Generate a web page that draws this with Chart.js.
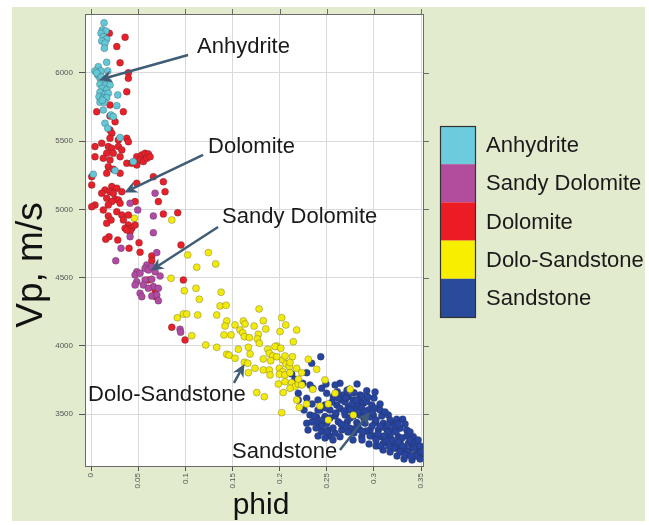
<!DOCTYPE html>
<html>
<head>
<meta charset="utf-8">
<script src="https://cdn.jsdelivr.net/npm/chart.js@4.4.0/dist/chart.umd.min.js"></script>
<style>
  html, body { margin: 0; padding: 0; background: #ffffff; }
  #wrap { position: relative; width: 649px; height: 525px; }
</style>
</head>
<body>
<div id="wrap"><canvas id="vpChart" width="649" height="525"></canvas></div>
<script>
// phid / Vp pairs per lithology
const anhydrite = [
    [0.0138, 6367], [0.0120, 6315], [0.0156, 6308], [0.0106, 6291], [0.0130, 6266], [0.0166, 6249],
    [0.0113, 6235], [0.0148, 6218], [0.0141, 6181], [0.0166, 6078], [0.0077, 6046], [0.0042, 6015],
    [0.0106, 6015], [0.0177, 6015], [0.0071, 5985], [0.0095, 5961], [0.0130, 5949], [0.0183, 5936],
    [0.0095, 5917], [0.0156, 5912], [0.0201, 5912], [0.0120, 5888], [0.0166, 5875], [0.0095, 5859],
    [0.0148, 5844], [0.0183, 5851], [0.0085, 5826], [0.0130, 5815], [0.0166, 5819], [0.0283, 5839],
    [0.0095, 5785], [0.0141, 5785], [0.0273, 5760], [0.0130, 5729], [0.0212, 5692], [0.0148, 5631],
    [0.0177, 5595], [0.0308, 5526], [0.0449, 5350], [0.0255, 5284], [0.0024, 5257], [0.0236, 5680],
    [0.0060, 6000], [0.0110, 5970], [0.0120, 5800]
];

const sandyDolomite = [
    [0.0679, 5119], [0.0414, 5045], [0.0495, 4996], [0.0661, 4952], [0.0414, 4800], [0.0661, 4829],
    [0.0318, 4715], [0.0262, 4624], [0.0697, 4683], [0.0591, 4593], [0.0573, 4568], [0.0608, 4556],
    [0.0644, 4580], [0.0485, 4543], [0.0467, 4519], [0.0520, 4532], [0.0679, 4543], [0.0732, 4512],
    [0.0644, 4488], [0.0485, 4470], [0.0573, 4483], [0.0467, 4446], [0.0555, 4446], [0.0661, 4434],
    [0.0608, 4422], [0.0714, 4422], [0.0520, 4385], [0.0644, 4365], [0.0697, 4373], [0.0538, 4360],
    [0.0714, 4331], [0.0944, 4121], [0.0950, 4100]
];

const dolomite = [
    [0.0194, 6291], [0.0361, 6262], [0.0273, 6193], [0.0308, 6075], [0.0396, 6002], [0.0396, 5961],
    [0.0379, 5863], [0.0201, 5765], [0.0060, 5716], [0.0343, 5716], [0.0201, 5685], [0.0255, 5643],
    [0.0201, 5582], [0.0220, 5558], [0.0201, 5521], [0.0290, 5509], [0.0379, 5521], [0.0396, 5496],
    [0.0042, 5460], [0.0113, 5485], [0.0183, 5460], [0.0220, 5448], [0.0290, 5460], [0.0326, 5436],
    [0.0166, 5411], [0.0236, 5411], [0.0042, 5386], [0.0130, 5375], [0.0201, 5362], [0.0308, 5386],
    [0.0379, 5338], [0.0485, 5386], [0.0538, 5399], [0.0573, 5411], [0.0608, 5406], [0.0520, 5362],
    [0.0555, 5350], [0.0591, 5375], [0.0626, 5386], [0.0485, 5326], [0.0432, 5338], [0.0183, 5313],
    [0.0236, 5294], [0.0308, 5265], [0.0007, 5240], [0.0166, 5265], [0.0661, 5240], [0.0767, 5203],
    [0.0485, 5191], [0.0007, 5179], [0.0220, 5167], [0.0148, 5142], [0.0273, 5155], [0.0201, 5130],
    [0.0113, 5118], [0.0236, 5118], [0.0326, 5130], [0.0166, 5082], [0.0255, 5074], [0.0290, 5069],
    [0.0220, 5057], [0.0308, 5045], [0.0042, 5032], [0.0007, 5020], [0.0183, 5032], [0.0467, 5057],
    [0.0785, 5130], [0.0714, 5057], [0.0130, 4996], [0.0273, 4983], [0.0326, 4959], [0.0396, 4959],
    [0.0183, 4952], [0.0212, 4922], [0.0166, 4898], [0.0343, 4922], [0.0396, 4886], [0.0361, 4862],
    [0.0432, 4862], [0.0467, 4886], [0.0414, 4837], [0.0379, 4849], [0.0191, 4800], [0.0156, 4781],
    [0.0283, 4776], [0.0767, 4966], [0.0919, 4976], [0.0509, 4756], [0.0403, 4715], [0.0520, 4686],
    [0.0954, 4739], [0.0644, 4659], [0.0644, 4624], [0.0608, 4483], [0.0979, 4483], [0.0679, 4409],
    [0.0686, 4360], [0.0856, 4136], [0.0997, 4043]
];

const doloSandstone = [
    [0.0459, 4935], [0.0856, 4922], [0.0848, 4495], [0.0989, 4404], [0.1025, 4666], [0.1244, 4683],
    [0.1121, 4576], [0.1322, 4600], [0.1113, 4422], [0.1379, 4393], [0.1148, 4341], [0.1368, 4292],
    [0.1432, 4297], [0.0979, 4233], [0.1015, 4233], [0.1131, 4226], [0.0915, 4206], [0.1333, 4226],
    [0.1782, 4270], [0.1439, 4182], [0.1615, 4182], [0.1827, 4184], [0.2022, 4206], [0.1527, 4153],
    [0.1580, 4116], [0.1633, 4160], [0.1729, 4145], [0.1421, 4145], [0.1853, 4123], [0.2065, 4153],
    [0.2181, 4116], [0.1485, 4080], [0.1410, 4080], [0.1609, 4096], [0.1626, 4067], [0.1679, 4060],
    [0.1774, 4085], [0.1764, 4050], [0.2004, 4104], [0.1068, 4074], [0.1785, 4019], [0.1969, 3999],
    [0.2145, 4030], [0.1216, 4006], [0.1333, 3989], [0.1562, 3975], [0.1668, 3989], [0.1874, 3975],
    [0.1951, 3994], [0.2012, 3982], [0.1439, 3938], [0.1463, 3931], [0.1686, 3940], [0.1891, 3945],
    [0.1927, 3926], [0.1969, 3920], [0.1527, 3909], [0.1827, 3904], [0.1906, 3891], [0.2033, 3896],
    [0.2135, 3920], [0.1626, 3879], [0.1662, 3872], [0.1739, 3835], [0.1827, 3823], [0.1891, 3823],
    [0.1997, 3835], [0.2033, 3810], [0.2068, 3867], [0.2103, 3847], [0.1668, 3803], [0.1997, 3791],
    [0.2057, 3786], [0.2110, 3803], [0.2181, 3835], [0.1898, 3786], [0.1986, 3720], [0.2057, 3737],
    [0.2128, 3730], [0.2163, 3701], [0.2039, 3657], [0.2110, 3689], [0.2198, 3720], [0.1757, 3657],
    [0.1838, 3627], [0.2057, 3926], [0.2110, 3877], [0.2304, 3901], [0.2393, 3828], [0.2234, 3803],
    [0.2198, 3755], [0.2351, 3681], [0.2481, 3750], [0.2234, 3713], [0.2588, 3652], [0.2181, 3603],
    [0.2287, 3574], [0.2516, 3574], [0.2428, 3559], [0.2209, 3549], [0.2747, 3682], [0.2022, 3510],
    [0.2516, 3457], [0.2782, 3493]
];

const sandstone = [
    [0.2436, 3920], [0.2340, 3872], [0.2287, 3803], [0.2128, 3794], [0.2163, 3755], [0.2245, 3725],
    [0.2351, 3689], [0.2446, 3689], [0.2640, 3725], [0.2739, 3682], [0.2924, 3671], [0.2499, 3652],
    [0.2612, 3664], [0.2675, 3640], [0.2569, 3627], [0.2728, 3627], [0.2658, 3603], [0.2781, 3603],
    [0.2853, 3598], [0.2888, 3579], [0.2924, 3591], [0.2977, 3566], [0.2818, 3566], [0.2606, 3566],
    [0.2481, 3566], [0.2428, 3530], [0.2534, 3530], [0.2640, 3542], [0.2728, 3550], [0.2800, 3530],
    [0.2871, 3542], [0.2941, 3530], [0.3012, 3542], [0.3065, 3530], [0.2322, 3493], [0.2393, 3476],
    [0.2481, 3481], [0.2588, 3486], [0.2694, 3493], [0.2781, 3486], [0.2853, 3493], [0.2924, 3481],
    [0.2994, 3493], [0.3083, 3486], [0.3153, 3493], [0.2287, 3432], [0.2410, 3432], [0.2499, 3432],
    [0.2622, 3444], [0.2718, 3444], [0.2818, 3437], [0.2906, 3432], [0.3012, 3437], [0.3100, 3432],
    [0.3189, 3437], [0.3242, 3462], [0.3305, 3462], [0.2446, 3371], [0.2516, 3383], [0.2588, 3359],
    [0.2658, 3383], [0.2747, 3396], [0.2853, 3383], [0.2959, 3383], [0.3047, 3383], [0.3136, 3388],
    [0.3206, 3383], [0.3277, 3396], [0.3348, 3383], [0.2527, 3339], [0.2640, 3334], [0.2871, 3334],
    [0.2994, 3339], [0.3083, 3334], [0.3171, 3339], [0.3259, 3334], [0.3348, 3339], [0.3418, 3334],
    [0.3100, 3286], [0.3206, 3286], [0.3277, 3290], [0.3365, 3286], [0.3436, 3286], [0.3242, 3249],
    [0.3330, 3242], [0.3401, 3249], [0.3471, 3231], [0.3348, 3200], [0.3436, 3200], [0.3489, 3187],
    [0.2198, 3652], [0.2198, 3603], [0.2322, 3713], [0.2287, 3616], [0.2588, 3713],
    [0.2694, 3588], [0.2768, 3574], [0.2831, 3515], [0.2895, 3464], [0.2959, 3478], [0.3022, 3456],
    [0.3097, 3405], [0.3149, 3369], [0.3224, 3413], [0.3192, 3310], [0.3298, 3266], [0.3383, 3310],
    [0.3128, 3310], [0.3043, 3354], [0.2980, 3413], [0.2916, 3375], [0.2831, 3420], [0.2747, 3471],
    [0.2683, 3522], [0.2598, 3508], [0.2534, 3471], [0.2450, 3413], [0.2386, 3398], [0.2704, 3413],
    [0.2789, 3361], [0.2874, 3310], [0.2948, 3281], [0.3022, 3266], [0.3097, 3237], [0.3171, 3222],
    [0.3245, 3193], [0.3319, 3171], [0.3404, 3163], [0.3489, 3171], [0.3277, 3222], [0.3213, 3251],
    [0.3362, 3222], [0.3425, 3251], [0.3489, 3266], [0.3065, 3574], [0.3001, 3618], [0.2853, 3640],
    [0.2789, 3655], [0.2715, 3675], [0.2556, 3588], [0.2492, 3544], [0.2344, 3442], [0.2407, 3530],
    [0.2344, 3574], [0.2259, 3530],
    [0.2619, 3618], [0.2704, 3618], [0.2810, 3603], [0.2874, 3632], [0.2937, 3625], [0.2747, 3530],
    [0.2906, 3515], [0.2980, 3508], [0.3118, 3515], [0.3171, 3457], [0.3256, 3427], [0.3330, 3427],
    [0.3383, 3369], [0.3468, 3310], [0.3500, 3222], [0.3446, 3193], [0.3298, 3325], [0.3234, 3369],
    [0.3149, 3420], [0.3065, 3413], [0.2959, 3339], [0.2884, 3369], [0.2810, 3398], [0.2725, 3369],
    [0.2651, 3427], [0.2566, 3398], [0.2503, 3369], [0.2460, 3457], [0.2365, 3486], [0.2301, 3383],
    [0.2407, 3339], [0.2481, 3325], [0.2566, 3310], [0.2778, 3310], [0.3022, 3310], [0.3107, 3339],
    [0.3256, 3295], [0.3160, 3266], [0.3065, 3266], [0.3330, 3200], [0.3394, 3193], [0.3012, 3662],
    [0.2821, 3720], [0.2492, 3720], [0.2407, 3603]
];

const lithologies = ['Anhydrite', 'Sandy Dolomite', 'Dolomite', 'Dolo-Sandstone', 'Sandstone'];
const seriesData = [anhydrite, sandyDolomite, dolomite, doloSandstone, sandstone];
const pointColors = ['#62c8d8', '#b04aa3', '#e8202a', '#f2ea0c', '#2644a0'];
const swatchColors = ['#6ccbdc', '#b14d9c', '#ec1c24', '#f7ee00', '#2a4b9b'];

const phidTicks = [0, 0.05, 0.1, 0.15, 0.2, 0.25, 0.3, 0.35];
const vpTicks = [3500, 4000, 4500, 5000, 5500, 6000];

// callouts: label anchor and arrow tail/tip, all in phid / Vp units
const callouts = [
    { text: 'Anhydrite', at: [0.1124, 6191], from: [0.1029, 6132], to: [0.0085, 5949] },
    { text: 'Dolomite', at: [0.1241, 5458], from: [0.1188, 5399], to: [0.0353, 5123] },
    { text: 'Sandy Dolomite', at: [0.1389, 4944], from: [0.1347, 4871], to: [0.0633, 4551] },
    { text: 'Dolo-Sandstone', at: [-0.0032, 3640], from: [0.1516, 3728], to: [0.1626, 3867] },
    { text: 'Sandstone', at: [0.1495, 3222], from: [0.2640, 3236], to: [0.2959, 3517] }
];

const FONT = '"Liberation Sans", Arial, sans-serif';

const backdrop = {
    id: 'backdrop',
    beforeDraw(chart) {
        const { ctx, chartArea: a } = chart;
        ctx.save();
        ctx.fillStyle = '#e3ebcf';
        ctx.fillRect(12, 7, 633, 514);
        ctx.fillStyle = '#ffffff';
        ctx.fillRect(a.left, a.top, a.right - a.left, a.bottom - a.top);
        ctx.restore();
    }
};

function drawArrow(ctx, x1, y1, x2, y2) {
    const ang = Math.atan2(y2 - y1, x2 - x1);
    const len = 13, half = 6, notch = 4;
    const bx = x2 - len * Math.cos(ang), by = y2 - len * Math.sin(ang);
    const nx = x2 - (len - notch) * Math.cos(ang), ny = y2 - (len - notch) * Math.sin(ang);
    ctx.beginPath();
    ctx.moveTo(x1, y1);
    ctx.lineTo(nx, ny);
    ctx.stroke();
    ctx.beginPath();
    ctx.moveTo(x2, y2);
    ctx.lineTo(bx + half * Math.sin(ang), by - half * Math.cos(ang));
    ctx.lineTo(nx, ny);
    ctx.lineTo(bx - half * Math.sin(ang), by + half * Math.cos(ang));
    ctx.closePath();
    ctx.fill();
}

const calloutPlugin = {
    id: 'callouts',
    afterDatasetsDraw(chart) {
        const { ctx, scales: { x, y } } = chart;
        ctx.save();
        ctx.strokeStyle = '#3f5d76';
        ctx.fillStyle = '#3f5d76';
        ctx.lineWidth = 2.5;
        callouts.forEach(c => {
            drawArrow(ctx, x.getPixelForValue(c.from[0]), y.getPixelForValue(c.from[1]),
                x.getPixelForValue(c.to[0]), y.getPixelForValue(c.to[1]));
        });
        ctx.fillStyle = '#1a1a1a';
        ctx.font = '22px ' + FONT;
        ctx.textBaseline = 'middle';
        ctx.textAlign = 'left';
        callouts.forEach(c => {
            ctx.fillText(c.text, x.getPixelForValue(c.at[0]), y.getPixelForValue(c.at[1]));
        });
        ctx.restore();
    }
};

const framePlugin = {
    id: 'frame',
    afterDraw(chart) {
        const { ctx, chartArea: a, scales: { x, y } } = chart;
        ctx.save();
        ctx.strokeStyle = '#6b6b6b';
        ctx.lineWidth = 1;
        ctx.strokeRect(a.left + 0.5, a.top + 0.5, a.right - a.left - 1, a.bottom - a.top);
        // outward ticks on the top and right edges
        ctx.beginPath();
        phidTicks.forEach(v => {
            const px = Math.round(x.getPixelForValue(v)) + 0.5;
            ctx.moveTo(px, a.top);
            ctx.lineTo(px, a.top - 5);
        });
        vpTicks.forEach(v => {
            const py = Math.round(y.getPixelForValue(v)) + 0.5;
            ctx.moveTo(a.right, py);
            ctx.lineTo(a.right + 5, py);
        });
        ctx.stroke();

        // axis titles
        ctx.fillStyle = '#111111';
        ctx.textAlign = 'center';
        ctx.textBaseline = 'middle';
        ctx.font = '30px ' + FONT;
        ctx.fillText('phid', 261, 506);
        ctx.save();
        ctx.translate(32, 265);
        ctx.rotate(-Math.PI / 2);
        ctx.font = '37px ' + FONT;
        ctx.fillText('Vp, m/s', 0, 0);
        ctx.restore();

        // stacked colour key
        const kx = 440, ky = 126, kw = 35, kh = 38.2;
        ctx.textAlign = 'left';
        lithologies.forEach((name, i) => {
            ctx.fillStyle = swatchColors[i];
            ctx.fillRect(kx, ky + i * kh, kw, kh);
            ctx.fillStyle = '#1a1a1a';
            ctx.font = '22px ' + FONT;
            ctx.fillText(name, kx + kw + 11, ky + i * kh + kh / 2 + 1);
        });
        ctx.strokeStyle = '#333333';
        ctx.lineWidth = 1.2;
        ctx.strokeRect(kx + 0.5, ky + 0.5, kw, kh * lithologies.length);
        ctx.restore();
    }
};

new Chart(document.getElementById('vpChart'), {
    type: 'scatter',
    data: {
        datasets: lithologies.map((name, i) => ({
            label: name,
            data: seriesData[i].map(p => ({ x: p[0], y: p[1] })),
            backgroundColor: pointColors[i],
            borderColor: 'rgba(40, 40, 40, 0.45)',
            borderWidth: 0.6,
            pointRadius: 3.5,
            order: i
        }))
    },
    options: {
        responsive: false,
        animation: false,
        devicePixelRatio: 1,
        layout: { padding: { top: 14, right: 225, bottom: 0, left: 0 } },
        plugins: {
            legend: { display: false },
            tooltip: { enabled: false }
        },
        scales: {
            x: {
                type: 'linear',
                min: -0.0064,
                max: 0.3531,
                afterFit: scale => { scale.height = 59; },
                afterBuildTicks: scale => { scale.ticks = phidTicks.map(v => ({ value: v })); },
                grid: { color: '#dadada', tickColor: '#555555', tickLength: 5 },
                border: { display: false },
                ticks: {
                    minRotation: 90,
                    maxRotation: 90,
                    padding: 2,
                    color: '#555555',
                    font: { family: FONT, size: 8 },
                    callback: v => String(v)
                }
            },
            y: {
                type: 'linear',
                min: 3119,
                max: 6432,
                afterFit: scale => { scale.width = 85; },
                afterBuildTicks: scale => { scale.ticks = vpTicks.map(v => ({ value: v })); },
                grid: { color: '#dadada', tickColor: '#555555', tickLength: 6 },
                border: { display: false },
                ticks: {
                    padding: 6,
                    color: '#555555',
                    font: { family: FONT, size: 8 },
                    callback: v => String(v)
                }
            }
        }
    },
    plugins: [backdrop, calloutPlugin, framePlugin]
});
</script>
</body>
</html>
